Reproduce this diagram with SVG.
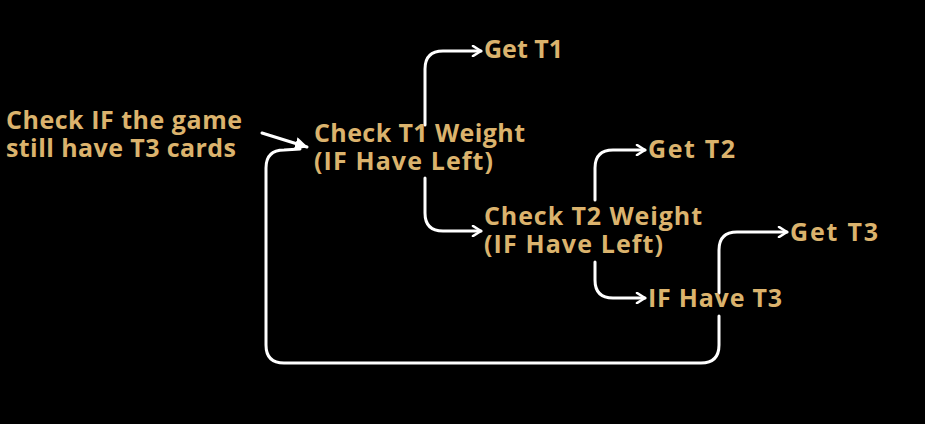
<svg xmlns="http://www.w3.org/2000/svg" width="925" height="424" viewBox="0 0 925 424">
<defs>
<marker id="open" viewBox="0 0 12 12" refX="10" refY="6" markerWidth="12" markerHeight="12" markerUnits="userSpaceOnUse" orient="auto">
<path d="M2,1 L10,6 L2,11" fill="none" stroke="#fff" stroke-width="2.6" stroke-linecap="round" stroke-linejoin="round"/>
</marker>
<marker id="solid" viewBox="0 0 12 12" refX="11" refY="6" markerWidth="13" markerHeight="13" markerUnits="userSpaceOnUse" orient="auto">
<path d="M0,0 L12,6 L0,12 Z" fill="#fff"/>
</marker>
<style>
.t{font-family:"Open Sans","Noto Sans",sans-serif;font-weight:700;font-size:25px;fill:#DBB36D}
.c{fill:none;stroke:#fff;stroke-width:3;stroke-linecap:round}
</style>
</defs>
<rect width="925" height="424" fill="#000"/>
<g id="connectors">
<path class="c" d="M262,133 L307,147" marker-end="url(#solid)"/>
<path class="c" d="M719,316 L719,345 Q719,363 701,363 L284,363 Q266,363 266,345 L266,168 Q266,150 284,150 L300,149"/>
<path class="c" d="M425,125 L425,69 Q425,51 443,51 L481,51" marker-end="url(#open)"/>
<path class="c" d="M425,178 L425,213 Q425,231 443,231 L481,231" marker-end="url(#open)"/>
<path class="c" d="M595,200 L595,168 Q595,150 613,150 L645,150" marker-end="url(#open)"/>
<path class="c" d="M595,262 L595,280 Q595,298 613,298 L645,298" marker-end="url(#open)"/>
<path class="c" d="M719,293 L719,250 Q719,232 737,232 L787,232" marker-end="url(#open)"/>
</g>
<g id="start"><text class="t" x="6" y="129" textLength="236">Check IF the game</text><text class="t" x="6" y="157" textLength="230">still have T3 cards</text></g>
<g id="check-t1"><text class="t" x="314" y="142" textLength="211">Check T1 Weight</text><text class="t" x="314" y="170" textLength="179">(IF Have Left)</text></g>
<g id="get-t1"><text class="t" x="484" y="58" textLength="79">Get T1</text></g>
<g id="check-t2"><text class="t" x="484" y="225" textLength="218">Check T2 Weight</text><text class="t" x="484" y="253" textLength="179">(IF Have Left)</text></g>
<g id="get-t2"><text class="t" x="648" y="158" textLength="87">Get T2</text></g>
<g id="if-t3"><text class="t" x="648" y="307" textLength="134">IF Have T3</text></g>
<g id="get-t3"><text class="t" x="790" y="241" textLength="88">Get T3</text></g>
</svg>
